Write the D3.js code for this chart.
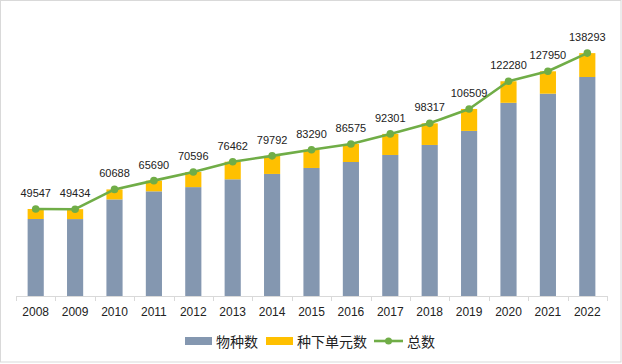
<!DOCTYPE html>
<html><head><meta charset="utf-8">
<script src="https://cdn.jsdelivr.net/npm/d3@7/dist/d3.min.js"></script>
<style>body{margin:0;background:#fff}svg{display:block}</style>
</head><body><svg id="c" width="622" height="364"></svg>
<script>
const years = ["2008","2009","2010","2011","2012","2013","2014","2015","2016","2017","2018","2019","2020","2021","2022"];
const species = [43850,43800,55000,59600,62000,66450,69500,72900,76300,80300,86000,94000,110000,115200,124700];
const infraspecific = [5697,5634,5688,6090,8596,10012,10292,10390,10275,12001,12317,12509,12280,12750,13593];
const totals = [49547,49434,60688,65690,70596,76462,79792,83290,86575,92301,98317,106509,122280,127950,138293];
const seriesNames = ["物种数","种下单元数","总数"];
const colors = ["#8497B0","#FFC000","#70AD47"];

const svg = d3.select("#c");
const W = 622, H = 364;
svg.append("rect").attr("x",0.5).attr("y",0.5).attr("width",W-1.5).attr("height",H-2.5)
  .attr("fill","#fff").attr("stroke","#d9d9d9").attr("stroke-width",1);

const x0 = 16, x1 = 607, yBase = 296;
const x = d3.scaleBand().domain(years).range([x0,x1]).paddingInner(0.59).paddingOuter(0.295);
const xb = d3.scaleBand().domain(years).range([x0,x1]);
const y = d3.scaleLinear().domain([0,160000]).range([yBase, yBase-281]);
const font = "Liberation Sans, Arial, sans-serif";

// bars
const g = svg.append("g");
g.selectAll(".sp").data(years).join("rect")
  .attr("x",d=>x(d)).attr("width",x.bandwidth())
  .attr("y",(d,i)=>y(species[i])).attr("height",(d,i)=>yBase-y(species[i]))
  .attr("fill",colors[0]);
g.selectAll(".in").data(years).join("rect")
  .attr("x",d=>x(d)).attr("width",x.bandwidth())
  .attr("y",(d,i)=>y(species[i]+infraspecific[i])).attr("height",(d,i)=>y(species[i])-y(species[i]+infraspecific[i]))
  .attr("fill",colors[1]);

// axis
const ax = svg.append("g").attr("transform",`translate(0,${yBase})`);
ax.append("line").attr("x1",x0).attr("x2",x1).attr("y1",0.5).attr("y2",0.5).attr("stroke","#d9d9d9");
const tickPos = years.map(d=>xb(d)).concat([x1]);
ax.selectAll(".tk").data(tickPos).join("line")
  .attr("x1",d=>Math.round(d)+0.5).attr("x2",d=>Math.round(d)+0.5).attr("y1",0).attr("y2",5)
  .attr("stroke","#d9d9d9");
ax.selectAll(".tl").data(years).join("text")
  .attr("x",d=>xb(d)+xb.bandwidth()/2).attr("y",19.5)
  .attr("text-anchor","middle").attr("font-family",font).attr("font-size",12).attr("fill","#222")
  .text(d=>d);

// line
const cx = d=>x(d)+x.bandwidth()/2;
const line = d3.line().x((d,i)=>cx(years[i])).y(d=>y(d));
svg.append("path").datum(totals).attr("d",line).attr("fill","none")
  .attr("stroke",colors[2]).attr("stroke-width",2.6).attr("stroke-linejoin","round");
svg.selectAll(".pt").data(totals).join("circle")
  .attr("cx",(d,i)=>cx(years[i])).attr("cy",d=>y(d)).attr("r",3.8).attr("fill",colors[2]);
svg.selectAll(".lb").data(totals).join("text")
  .attr("x",(d,i)=>cx(years[i])).attr("y",d=>y(d)-12)
  .attr("text-anchor","middle").attr("font-family",font).attr("font-size",11).attr("fill","#222")
  .text(d=>d);

// legend
const cjk = "Noto Sans CJK SC, sans-serif";
const lg = svg.append("g");
lg.append("rect").attr("x",185).attr("y",337).attr("width",27).attr("height",8).attr("fill",colors[0]);
lg.append("text").attr("x",216).attr("y",346.5).attr("font-family",cjk).attr("font-size",14).attr("fill","#222").text(seriesNames[0]);
lg.append("rect").attr("x",266).attr("y",337).attr("width",27).attr("height",8).attr("fill",colors[1]);
lg.append("text").attr("x",297).attr("y",346.5).attr("font-family",cjk).attr("font-size",14).attr("fill","#222").text(seriesNames[1]);
lg.append("line").attr("x1",374).attr("x2",403).attr("y1",341).attr("y2",341).attr("stroke",colors[2]).attr("stroke-width",2.6);
lg.append("circle").attr("cx",388.5).attr("cy",341).attr("r",3.5).attr("fill",colors[2]);
lg.append("text").attr("x",407).attr("y",346.5).attr("font-family",cjk).attr("font-size",14).attr("fill","#222").text(seriesNames[2]);
</script></body></html>
